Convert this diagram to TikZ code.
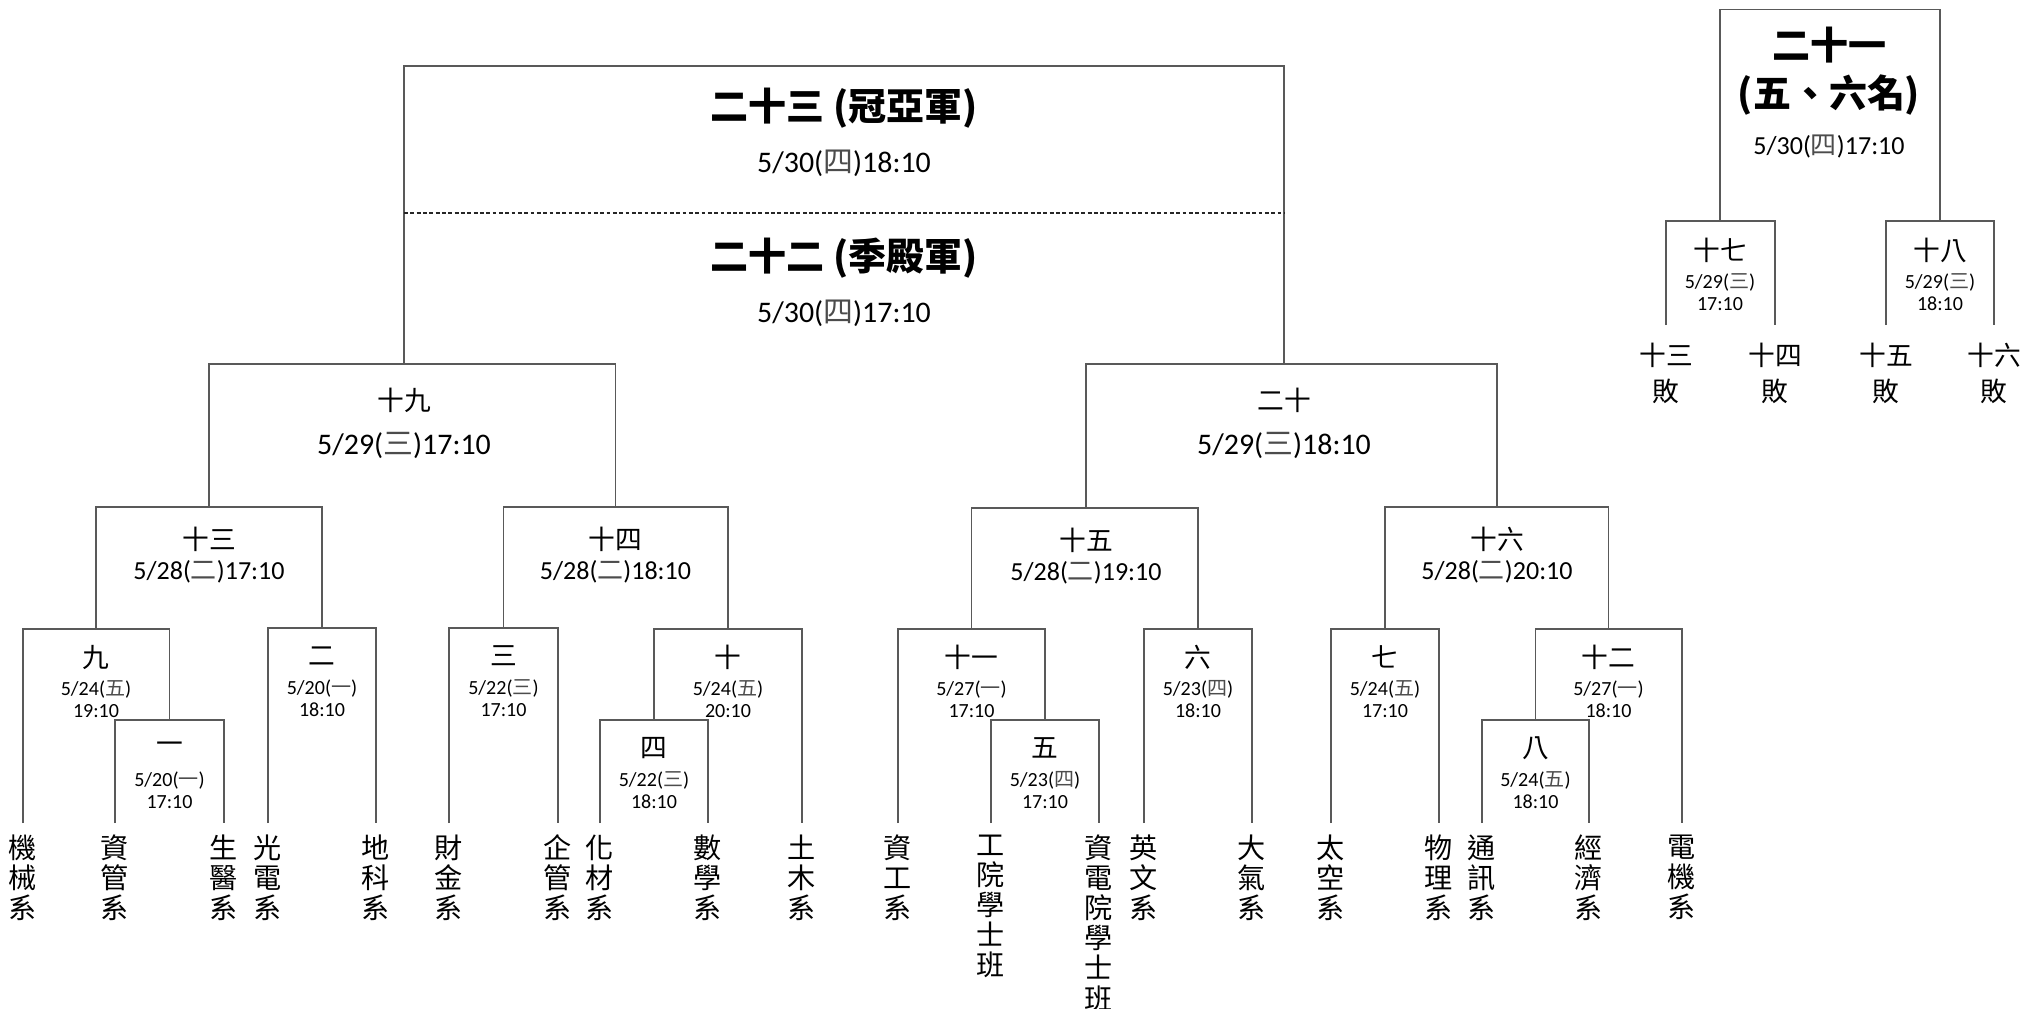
\documentclass[tikz,border=0pt]{standalone}
\usepackage{fontspec}
\setmainfont{Carlito}
\newfontfamily\cjk{Noto Sans CJK TC}
\newcommand{\wday}[1]{{\cjk\color{black!70}#1}}
\usetikzlibrary{positioning}

\begin{document}
\begin{tikzpicture}[x=0.01cm, y=-0.01cm, draw=black!65, line width=0.45pt,
  inner sep=0, outer sep=0,
  team/.style={font=\cjk\fontsize{8}{8.55}\selectfont, align=center},
  game/.style={font=\cjk\fontsize{7.6}{9}\selectfont},
  gtime/.style={font=\fontsize{5.7}{6.3}\selectfont, align=center},
  rtime/.style={font=\fontsize{7.4}{8}\selectfont},
  stime/.style={font=\fontsize{8.5}{9}\selectfont},
  final/.style={font=\cjk\bfseries\fontsize{10.8}{13.7}\selectfont, align=center},
  lost/.style={font=\cjk\fontsize{7.6}{10.5}\selectfont, align=center},
  sep/.style={draw=black!85, dash pattern=on 1.1pt off 0.7pt}]

  \useasboundingbox (0,0) rectangle (2024,1009);

  % teams
  \coordinate (t1) at (23,823);
  \coordinate (t2) at (115,823);
  \coordinate (t3) at (224,823);
  \coordinate (t4) at (268,823);
  \coordinate (t5) at (376,823);
  \coordinate (t6) at (449,823);
  \coordinate (t7) at (558,823);
  \coordinate (t8) at (600,823);
  \coordinate (t9) at (708,823);
  \coordinate (t10) at (802,823);
  \coordinate (t11) at (898,823);
  \coordinate (t12) at (991,823);
  \coordinate (t13) at (1099,823);
  \coordinate (t14) at (1144,823);
  \coordinate (t15) at (1252,823);
  \coordinate (t16) at (1331,823);
  \coordinate (t17) at (1439,823);
  \coordinate (t18) at (1482,823);
  \coordinate (t19) at (1589,823);
  \coordinate (t20) at (1682,823);
  \node[team, below=3.4pt of t1] (t1n) {機\\械\\系};
  \node[team, below=3.4pt of t2] (t2n) {資\\管\\系};
  \node[team, below=3.4pt of t3] (t3n) {生\\醫\\系};
  \node[team, below=3.4pt of t4] (t4n) {光\\電\\系};
  \node[team, below=3.4pt of t5] (t5n) {地\\科\\系};
  \node[team, below=3.4pt of t6] (t6n) {財\\金\\系};
  \node[team, below=3.4pt of t7] (t7n) {企\\管\\系};
  \node[team, below=3.4pt of t8] (t8n) {化\\材\\系};
  \node[team, below=3.4pt of t9] (t9n) {數\\學\\系};
  \node[team, below=3.4pt of t10] (t10n) {土\\木\\系};
  \node[team, below=3.4pt of t11] (t11n) {資\\工\\系};
  \node[team, below=3.4pt of t12] (t12n) {工\\院\\學\\士\\班};
  \node[team, below=3.4pt of t13] (t13n) {資\\電\\院\\學\\士\\班};
  \node[team, below=3.4pt of t14] (t14n) {英\\文\\系};
  \node[team, below=3.4pt of t15] (t15n) {大\\氣\\系};
  \node[team, below=3.4pt of t16] (t16n) {太\\空\\系};
  \node[team, below=3.4pt of t17] (t17n) {物\\理\\系};
  \node[team, below=3.4pt of t18] (t18n) {通\\訊\\系};
  \node[team, below=3.4pt of t19] (t19n) {經\\濟\\系};
  \node[team, below=3.4pt of t20] (t20n) {電\\機\\系};

  % games one to eight
  \coordinate (g1) at (169.5,720);
  \coordinate (g2) at (322,628);
  \coordinate (g3) at (503.5,628);
  \coordinate (g4) at (654,720);
  \coordinate (g5) at (1045,720);
  \coordinate (g6) at (1198,629);
  \coordinate (g7) at (1385,629);
  \coordinate (g8) at (1535.5,720);
  \draw (t2) |- (g1) -| (t3);
  \draw (t4) |- (g2) -| (t5);
  \draw (t6) |- (g3) -| (t7);
  \draw (t8) |- (g4) -| (t9);
  \draw (t12) |- (g5) -| (t13);
  \draw (t14) |- (g6) -| (t15);
  \draw (t16) |- (g7) -| (t17);
  \draw (t18) |- (g8) -| (t19);
  \node[game] (g1n) at ([yshift=-8pt]g1) {一};
  \node[gtime] (g1d) at ([yshift=-19.9pt]g1) {5/20(\wday{一})\\17:10};
  \node[game] (g2n) at ([yshift=-8pt]g2) {二};
  \node[gtime] (g2d) at ([yshift=-19.9pt]g2) {5/20(\wday{一})\\18:10};
  \node[game] (g3n) at ([yshift=-8pt]g3) {三};
  \node[gtime] (g3d) at ([yshift=-19.9pt]g3) {5/22(\wday{三})\\17:10};
  \node[game] (g4n) at ([yshift=-8pt]g4) {四};
  \node[gtime] (g4d) at ([yshift=-19.9pt]g4) {5/22(\wday{三})\\18:10};
  \node[game] (g5n) at ([yshift=-8pt]g5) {五};
  \node[gtime] (g5d) at ([yshift=-19.9pt]g5) {5/23(\wday{四})\\17:10};
  \node[game] (g6n) at ([yshift=-8pt]g6) {六};
  \node[gtime] (g6d) at ([yshift=-19.9pt]g6) {5/23(\wday{四})\\18:10};
  \node[game] (g7n) at ([yshift=-8pt]g7) {七};
  \node[gtime] (g7d) at ([yshift=-19.9pt]g7) {5/24(\wday{五})\\17:10};
  \node[game] (g8n) at ([yshift=-8pt]g8) {八};
  \node[gtime] (g8d) at ([yshift=-19.9pt]g8) {5/24(\wday{五})\\18:10};

  % games nine to twelve
  \coordinate (g9) at (96,629);
  \coordinate (g10) at (728,629);
  \coordinate (g11) at (971.5,629);
  \coordinate (g12) at (1608.5,629);
  \draw (t1) |- (g9) -| (g1);
  \draw (g4) |- (g10) -| (t10);
  \draw (t11) |- (g11) -| (g5);
  \draw (g8) |- (g12) -| (t20);
  \node[game] (g9n) at ([yshift=-8pt]g9) {九};
  \node[gtime] (g9d) at ([yshift=-19.9pt]g9) {5/24(\wday{五})\\19:10};
  \node[game] (g10n) at ([yshift=-8pt]g10) {十};
  \node[gtime] (g10d) at ([yshift=-19.9pt]g10) {5/24(\wday{五})\\20:10};
  \node[game] (g11n) at ([yshift=-8pt]g11) {十一};
  \node[gtime] (g11d) at ([yshift=-19.9pt]g11) {5/27(\wday{一})\\17:10};
  \node[game] (g12n) at ([yshift=-8pt]g12) {十二};
  \node[gtime] (g12d) at ([yshift=-19.9pt]g12) {5/27(\wday{一})\\18:10};

  % games thirteen to sixteen
  \coordinate (g13) at (209,507);
  \coordinate (g14) at (615.5,507);
  \coordinate (g15) at (1086,508);
  \coordinate (g16) at (1497,507);
  \draw (g9) |- (g13) -| (g2);
  \draw (g3) |- (g14) -| (g10);
  \draw (g11) |- (g15) -| (g6);
  \draw (g7) |- (g16) -| (g12);
  \node[game] (g13n) at ([yshift=-9.1pt]g13) {十三};
  \node[rtime] (g13d) at ([yshift=-18.5pt]g13) {5/28(\wday{二})17:10};
  \node[game] (g14n) at ([yshift=-9.1pt]g14) {十四};
  \node[rtime] (g14d) at ([yshift=-18.5pt]g14) {5/28(\wday{二})18:10};
  \node[game] (g15n) at ([yshift=-9.1pt]g15) {十五};
  \node[rtime] (g15d) at ([yshift=-18.5pt]g15) {5/28(\wday{二})19:10};
  \node[game] (g16n) at ([yshift=-9.1pt]g16) {十六};
  \node[rtime] (g16d) at ([yshift=-18.5pt]g16) {5/28(\wday{二})20:10};

  % semi finals
  \coordinate (g19) at (404,364);
  \coordinate (g20) at (1284,364);
  \draw (g13) |- (g19) -| (g14);
  \draw (g15) |- (g20) -| (g16);
  \node[game] (g19n) at ([yshift=-10.4pt]g19) {十九};
  \node[stime] (g19d) at ([yshift=-23.3pt]g19) {5/29(\wday{三})17:10};
  \node[game] (g20n) at ([yshift=-10.4pt]g20) {二十};
  \node[stime] (g20d) at ([yshift=-23.3pt]g20) {5/29(\wday{三})18:10};

  % finals
  \coordinate (g23) at (844,66);
  \draw (g19) |- (g23) -| (g20);
  \node[final] (g23n) at ([yshift=-12pt]g23) {二十三 (冠亞軍)};
  \node[stime] (g23d) at ([yshift=-27.6pt]g23) {5/30(\wday{四})18:10};
  \coordinate (s1) at (404,213);
  \coordinate (s2) at (1284,213);
  \draw[sep] (s1) -- (s2);
  \node[final] (g22n) at ([yshift=-54.6pt]g23) {二十二 (季殿軍)};
  \node[stime] (g22d) at ([yshift=-70.3pt]g23) {5/30(\wday{四})17:10};

  % fifth and sixth place
  \coordinate (l13) at (1666,325);
  \coordinate (l14) at (1775,325);
  \coordinate (l15) at (1886,325);
  \coordinate (l16) at (1994,325);
  \coordinate (g17) at (1720,221);
  \coordinate (g18) at (1940,221);
  \coordinate (g21) at (1829,9.5);
  \draw (l13) |- (g17) -| (l14);
  \draw (l15) |- (g18) -| (l16);
  \draw (g17) |- (g21) -| (g18);
  \node[lost, below=5pt of l13] (l13n) {十三\\敗};
  \node[lost, below=5pt of l14] (l14n) {十四\\敗};
  \node[lost, below=5pt of l15] (l15n) {十五\\敗};
  \node[lost, below=5pt of l16] (l16n) {十六\\敗};
  \node[game] (g17n) at ([yshift=-8.3pt]g17) {十七};
  \node[gtime] (g17d) at ([yshift=-20.3pt]g17) {5/29(\wday{三})\\17:10};
  \node[game] (g18n) at ([yshift=-8.3pt]g18) {十八};
  \node[gtime] (g18d) at ([yshift=-20.3pt]g18) {5/29(\wday{三})\\18:10};
  \node[final] (g21n) at ([yshift=-17.5pt]g21) {二十一\\(五、六名)};
  \node[rtime] (g21d) at ([yshift=-39.1pt]g21) {5/30(\wday{四})17:10};
\end{tikzpicture}
\end{document}
